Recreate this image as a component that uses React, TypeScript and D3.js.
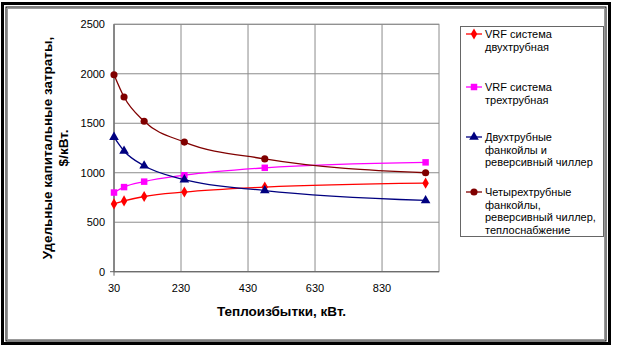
import { useEffect, useRef } from "react";
import * as d3 from "d3";

const X_VALUES = [30, 60, 120, 240, 480, 960];
const VRF_2PIPE = [685, 715, 760, 805, 855, 895];
const VRF_3PIPE = [800, 855, 910, 975, 1050, 1105];
const FANCOIL_2PIPE = [1360, 1220, 1070, 930, 820, 720];
const FANCOIL_4PIPE = [1990, 1765, 1520, 1310, 1140, 1000];
const X_TICKS = [30, 230, 430, 630, 830];
const Y_TICKS = [0, 500, 1000, 1500, 2000, 2500];

const SERIES = [
  { name: ["VRF система", "двухтрубная"], values: VRF_2PIPE, color: "#FF0000", marker: "diamond" },
  { name: ["VRF система", "трехтрубная"], values: VRF_3PIPE, color: "#FF00FF", marker: "square" },
  { name: ["Двухтрубные", "фанкойлы и", "реверсивный чиллер"], values: FANCOIL_2PIPE, color: "#000080", marker: "triangle" },
  { name: ["Четырехтрубные", "фанкойлы,", "реверсивный чиллер,", "теплоснабжение"], values: FANCOIL_4PIPE, color: "#800000", marker: "circle" },
];

const FONT = "'Liberation Sans', Arial, sans-serif";

export default function App() {
  const svgRef = useRef<SVGSVGElement>(null);

  useEffect(() => {
    if (!svgRef.current) return;
    const W = 617, H = 352;
    const svg = d3.select(svgRef.current).attr("width", W).attr("height", H);
    svg.selectAll("*").remove();

    svg.append("rect").attr("width", W).attr("height", H).attr("fill", "white");
    // frame
    svg.append("rect").attr("x", 2.5).attr("y", 3.5).attr("width", 607).attr("height", 340).attr("fill", "none").attr("stroke", "#000").attr("stroke-width", 3);
    svg.append("rect").attr("x", 6).attr("y", 7).attr("width", 600).attr("height", 334).attr("fill", "none").attr("stroke", "#000").attr("stroke-width", 1);
    svg.append("rect").attr("x", 7.5).attr("y", 8.5).attr("width", 597).attr("height", 331).attr("fill", "none").attr("stroke", "#999").attr("stroke-width", 1);

    const pl = 114, pr = 439, pt = 24.3, pb = 271.7;
    const x = d3.scaleLinear().domain([30, 1000]).range([pl, pr]);
    const y = d3.scaleLinear().domain([0, 2500]).range([pb, pt]);

    const g = svg.append("g");
    Y_TICKS.forEach(t => {
      g.append("line").attr("x1", pl).attr("x2", pr).attr("y1", y(t)).attr("y2", y(t)).attr("stroke", "#8c8c8c").attr("stroke-width", 1);
      g.append("text").attr("x", pl - 9).attr("y", y(t) + 4).attr("text-anchor", "end").attr("font-family", FONT).attr("font-size", 11).attr("fill", "#000").text(t);
    });
    X_TICKS.forEach(t => {
      g.append("line").attr("x1", x(t)).attr("x2", x(t)).attr("y1", pt).attr("y2", pb).attr("stroke", "#8c8c8c").attr("stroke-width", 1);
      g.append("text").attr("x", x(t)).attr("y", pb + 20).attr("text-anchor", "middle").attr("font-family", FONT).attr("font-size", 11).attr("fill", "#000").text(t);
    });
    g.append("rect").attr("x", pl).attr("y", pt).attr("width", pr - pl).attr("height", pb - pt).attr("fill", "none").attr("stroke", "#8c8c8c").attr("stroke-width", 1);
    // axis line
    g.append("line").attr("x1", pl).attr("x2", pl).attr("y1", pt).attr("y2", pb + 4).attr("stroke", "#666");
    g.append("line").attr("x1", pl - 4).attr("x2", pr).attr("y1", pb).attr("y2", pb).attr("stroke", "#666");

    const sym: Record<string, d3.SymbolType> = { diamond: d3.symbolDiamond, square: d3.symbolSquare, triangle: d3.symbolTriangle, circle: d3.symbolCircle };
    const size: Record<string, number> = { diamond: 36, square: 42, triangle: 40, circle: 40 };

    const line = d3.line<number>().x((_, i) => x(X_VALUES[i])).y(d => y(d)).curve(d3.curveMonotoneX);
    SERIES.forEach(s => {
      g.append("path").datum(s.values).attr("d", line).attr("fill", "none").attr("stroke", s.color).attr("stroke-width", 1.3);
      s.values.forEach((v, i) => {
        g.append("path").attr("d", d3.symbol(sym[s.marker], size[s.marker])()!).attr("transform", `translate(${x(X_VALUES[i])},${y(v)})`).attr("fill", s.color);
      });
    });

    // axis titles
    g.append("text").attr("x", x(530)).attr("y", 316).attr("text-anchor", "middle").attr("font-family", FONT).attr("font-size", 13.5).attr("font-weight", "bold").text("Теплоизбытки, кВт.");
    const yt = g.append("g").attr("transform", "translate(0,148) rotate(-90)");
    yt.append("text").attr("x", 0).attr("y", 52).attr("text-anchor", "middle").attr("font-family", FONT).attr("font-size", 13.5).attr("font-weight", "bold").text("Удельные капитальные затраты,");
    yt.append("text").attr("x", 0).attr("y", 68).attr("text-anchor", "middle").attr("font-family", FONT).attr("font-size", 13.5).attr("font-weight", "bold").text("$/кВт.");

    // legend
    const lg = svg.append("g");
    lg.append("rect").attr("x", 460.5).attr("y", 26.5).attr("width", 143).attr("height", 210).attr("fill", "white").attr("stroke", "#666").attr("stroke-width", 1);
    const itemY = [34, 87, 137, 192];
    SERIES.forEach((s, k) => {
      const yy = itemY[k];
      lg.append("line").attr("x1", 466).attr("x2", 482).attr("y1", yy).attr("y2", yy).attr("stroke", s.color).attr("stroke-width", 1.3);
      lg.append("path").attr("d", d3.symbol(sym[s.marker], size[s.marker])()!).attr("transform", `translate(474,${yy})`).attr("fill", s.color);
      s.name.forEach((t, j) => {
        lg.append("text").attr("x", 485).attr("y", yy + 4 + j * 12.5).attr("font-family", FONT).attr("font-size", 11).attr("fill", "#000").text(t);
      });
    });
  }, []);

  return (
    <div style={{ position: "absolute", left: 0, top: 0, width: 617, height: 352, background: "white" }}>
      <svg ref={svgRef} style={{ display: "block" }} />
    </div>
  );
}
